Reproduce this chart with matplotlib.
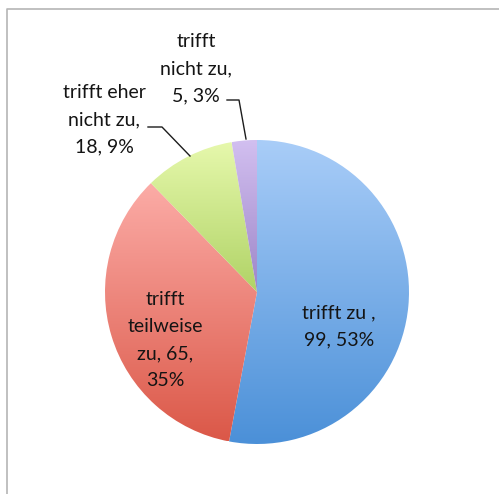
import numpy as np
import matplotlib
matplotlib.use("Agg")
import matplotlib.pyplot as plt
from matplotlib.colors import LinearSegmentedColormap

# answers, counts and shares as printed in the chart
labels = ["trifft zu ,", "trifft\nteilweise\nzu,", "trifft eher\nnicht zu,", "trifft\nnicht zu,"]
counts = [99, 65, 18, 5]
shares = ["53%", "35%", "9%", "3%"]
# (top colour, bottom colour) of the gradient fill per slice
grads = [("#a9cdf8", "#4b90d8"), ("#fcaca7", "#db5848"),
         ("#e6f8ac", "#b0d366"), ("#d2bff0", "#9d86c8")]

W, H = 499, 494
fig = plt.figure(figsize=(W / 100, H / 100), dpi=100)
ax = fig.add_axes([0, 0, 1, 1])

# chart frame (only left and top edges visible in the crop)
ax.plot([7.5, 7.5, W], [0, H - 9.5, H - 9.5], color="#b5b5b5", lw=1.2)

cx, cy, r = 257, 494 - 292, 152
wedges, _ = ax.pie(counts, startangle=90, counterclock=False,
                   center=(cx, cy), radius=r, frame=True,
                   wedgeprops=dict(linewidth=0))

grad = np.linspace(1, 0, 256).reshape(-1, 1)
for w, (top, bot) in zip(wedges, grads):
    w.set_facecolor("none")
    ext = w.get_path().get_extents()
    cmap = LinearSegmentedColormap.from_list("g", [bot, top])
    im = ax.imshow(grad, cmap=cmap, aspect="auto", origin="upper",
                   extent=[ext.x0, ext.x1, ext.y0, ext.y1], zorder=1)
    im.set_clip_path(w)
ax.set_xlim(0, W)
ax.set_ylim(0, H)
ax.set_aspect("equal")
ax.axis("off")

font = dict(family=["Lato", "DejaVu Sans"], fontsize=14, color="#141414",
            ha="center", va="center", linespacing=1.72, zorder=5)
texts = [f"{labels[0]}\n{counts[0]}, {shares[0]}",
         f"{labels[1]} {counts[1]},\n{shares[1]}",
         f"{labels[2]}\n{counts[2]}, {shares[2]}",
         f"{labels[3]}\n{counts[3]}, {shares[3]}"]
pos = [(339, 326), (165, 340), (104, 120), (196, 69)]
for t, (x, y) in zip(texts, pos):
    ax.text(x, H - y, t, **font)

# leader lines for the two small slices
ax.plot([148, 162, 190], [H - 127, H - 127, H - 156], color="#1c1c1c", lw=1, zorder=5)
ax.plot([227, 239, 246], [H - 100, H - 100, H - 139], color="#1c1c1c", lw=1, zorder=5)

fig.savefig("out.png", dpi=100)
